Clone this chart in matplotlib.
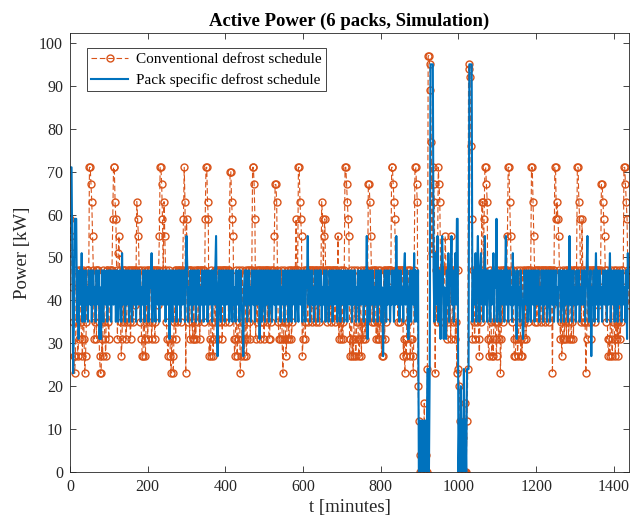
import numpy as np
import matplotlib
matplotlib.use("Agg")
import matplotlib.pyplot as plt

# Sampling step of both series (minutes)
STEP_MIN = 2

# Conventional defrost schedule, kW (one line = one hour, 30 samples)
conventional_kw = [
    59, 55, 51, 43, 35, 27, 23, 27, 47, 35, 27, 31, 47, 47, 35, 31, 27, 47, 31, 23, 27, 35, 47, 47, 43, 71, 71, 67, 63, 55,
    47, 31, 35, 47, 31, 47, 47, 35, 27, 23, 23, 31, 27, 47, 35, 31, 27, 47, 47, 35, 31, 47, 43, 47, 47, 59, 71, 71, 63, 59,
    47, 31, 51, 55, 47, 35, 27, 31, 47, 35, 47, 47, 31, 35, 47, 43, 47, 35, 31, 47, 47, 35, 47, 47, 39, 47, 63, 59, 55, 47,
    35, 47, 31, 27, 27, 47, 31, 27, 35, 47, 31, 47, 35, 47, 47, 31, 35, 47, 47, 31, 35, 47, 47, 39, 47, 55, 71, 71, 67, 59,
    47, 63, 55, 47, 35, 31, 27, 31, 47, 27, 23, 31, 27, 23, 35, 47, 31, 47, 35, 47, 47, 43, 47, 35, 47, 47, 59, 71, 63, 23,
    59, 47, 35, 47, 31, 47, 47, 35, 31, 47, 31, 35, 31, 47, 47, 35, 47, 31, 47, 47, 43, 47, 47, 35, 59, 71, 71, 63, 59, 27,
    31, 27, 47, 35, 27, 31, 47, 35, 47, 47, 35, 31, 47, 47, 35, 47, 31, 47, 47, 35, 47, 47, 43, 47, 35, 47, 70, 70, 63, 59,
    55, 31, 27, 31, 47, 27, 31, 35, 47, 23, 27, 31, 47, 35, 27, 31, 47, 27, 31, 47, 35, 47, 31, 47, 47, 71, 71, 67, 59, 31,
    47, 35, 47, 47, 31, 47, 35, 47, 47, 35, 31, 47, 47, 47, 35, 47, 31, 31, 47, 35, 47, 47, 43, 55, 67, 67, 63, 47, 35, 31,
    31, 35, 47, 31, 23, 31, 47, 35, 27, 31, 47, 35, 31, 47, 47, 31, 35, 47, 43, 47, 47, 59, 47, 47, 71, 71, 63, 59, 55, 27,
    31, 47, 35, 31, 47, 47, 35, 47, 47, 43, 47, 35, 47, 47, 39, 47, 35, 47, 47, 43, 47, 35, 47, 47, 63, 59, 47, 55, 59, 47,
    47, 35, 47, 47, 39, 47, 35, 47, 47, 43, 47, 35, 47, 47, 43, 55, 31, 35, 47, 31, 47, 31, 35, 47, 71, 71, 67, 63, 59, 55,
    27, 31, 47, 27, 31, 27, 47, 31, 27, 35, 47, 31, 27, 31, 47, 27, 35, 31, 47, 35, 31, 47, 47, 43, 67, 67, 63, 55, 47, 35,
    47, 35, 47, 47, 31, 35, 31, 47, 31, 47, 35, 27, 31, 27, 47, 31, 47, 35, 47, 47, 43, 47, 47, 47, 71, 71, 67, 63, 59, 47,
    47, 47, 35, 47, 47, 35, 47, 47, 47, 27, 31, 23, 31, 27, 47, 35, 47, 47, 27, 31, 31, 27, 23, 47, 71, 71, 67, 63, 20, 12,
    4, 0, 0, 8, 0, 0, 16, 0, 4, 0, 24, 97, 97, 95, 89, 77, 51, 71, 67, 63, 23, 47, 35, 47, 71, 67, 63, 47, 35, 47,
    47, 35, 47, 55, 47, 31, 47, 35, 47, 47, 31, 55, 47, 35, 47, 47, 31, 35, 23, 47, 24, 20, 12, 0, 4, 0, 8, 0, 16, 0,
    0, 12, 24, 94, 95, 92, 76, 59, 31, 47, 35, 31, 47, 47, 35, 47, 31, 27, 47, 35, 63, 63, 47, 59, 71, 71, 67, 63, 31, 27,
    31, 47, 35, 27, 31, 27, 47, 35, 31, 27, 47, 35, 31, 47, 23, 31, 47, 35, 47, 47, 43, 47, 47, 55, 71, 71, 63, 55, 47, 35,
    47, 31, 27, 27, 31, 47, 27, 31, 35, 47, 27, 31, 27, 47, 31, 35, 47, 31, 47, 35, 47, 47, 43, 47, 71, 71, 63, 55, 47, 35,
    47, 35, 47, 47, 43, 47, 35, 47, 47, 39, 47, 35, 47, 47, 43, 47, 47, 35, 47, 47, 39, 23, 47, 47, 71, 71, 59, 63, 59, 55,
    47, 31, 35, 27, 31, 47, 31, 35, 47, 31, 47, 35, 31, 47, 47, 31, 35, 47, 31, 47, 47, 43, 47, 71, 71, 63, 59, 47, 35, 59,
    47, 35, 47, 35, 23, 31, 47, 35, 47, 47, 31, 35, 47, 47, 43, 47, 35, 47, 47, 39, 47, 47, 43, 47, 67, 67, 63, 59, 55, 47,
    35, 47, 31, 27, 31, 27, 47, 31, 27, 35, 47, 31, 27, 47, 31, 35, 27, 47, 31, 35, 47, 47, 43, 71, 71, 67, 63, 59, 47, 39,
]

# Pack specific defrost schedule, kW (one line = one hour, 30 samples)
pack_specific_kw = [
    71, 71, 71, 47, 23, 35, 59, 59, 59, 35, 47, 31, 43, 47, 39, 51, 35, 47, 43, 35, 47, 39, 43, 35, 47, 43, 39, 47, 35, 43,
    47, 39, 43, 35, 47, 43, 39, 47, 31, 43, 31, 47, 39, 35, 47, 43, 39, 47, 35, 43, 47, 39, 47, 35, 43, 47, 39, 43, 47, 35,
    43, 47, 35, 39, 47, 43, 35, 51, 39, 47, 43, 35, 47, 39, 43, 47, 35, 43, 47, 39, 35, 47, 43, 39, 47, 35, 43, 47, 39, 43,
    47, 35, 43, 39, 47, 43, 35, 47, 39, 43, 47, 35, 39, 47, 43, 51, 35, 43, 47, 39, 35, 47, 43, 39, 47, 35, 47, 43, 39, 47,
    39, 43, 47, 35, 47, 39, 43, 47, 31, 43, 47, 39, 35, 47, 43, 39, 47, 35, 43, 47, 39, 47, 35, 43, 47, 39, 43, 47, 35, 47,
    55, 47, 35, 43, 39, 47, 43, 35, 47, 39, 43, 47, 35, 43, 47, 39, 47, 35, 43, 39, 47, 43, 35, 47, 39, 43, 47, 35, 43, 47,
    39, 43, 47, 35, 43, 47, 39, 47, 55, 35, 27, 43, 47, 39, 35, 47, 43, 39, 47, 35, 43, 47, 39, 43, 47, 35, 39, 47, 43, 35,
    47, 39, 43, 35, 47, 43, 39, 47, 35, 43, 47, 39, 35, 27, 43, 47, 39, 47, 35, 43, 47, 39, 43, 35, 47, 43, 39, 47, 35, 43,
    47, 39, 43, 47, 31, 43, 47, 35, 39, 47, 43, 35, 47, 39, 43, 47, 35, 43, 47, 39, 35, 47, 43, 39, 47, 35, 43, 47, 39, 43,
    47, 35, 43, 39, 47, 43, 35, 47, 39, 43, 47, 35, 39, 47, 43, 35, 47, 39, 43, 47, 35, 43, 47, 39, 35, 47, 43, 39, 47, 35,
    43, 47, 39, 35, 47, 43, 55, 39, 47, 35, 43, 47, 39, 43, 35, 47, 39, 43, 47, 35, 43, 47, 39, 47, 35, 43, 39, 47, 43, 35,
    47, 39, 43, 35, 47, 43, 39, 47, 35, 43, 47, 39, 43, 47, 35, 39, 47, 43, 35, 47, 39, 43, 47, 35, 43, 47, 39, 35, 47, 43,
    39, 47, 43, 35, 47, 39, 43, 47, 35, 43, 39, 47, 35, 43, 47, 39, 43, 47, 35, 43, 47, 39, 55, 31, 47, 43, 35, 47, 39, 43,
    47, 35, 43, 39, 47, 43, 35, 47, 39, 43, 47, 35, 43, 27, 39, 47, 43, 35, 47, 39, 43, 47, 35, 43, 39, 47, 43, 35, 47, 39,
    55, 43, 39, 47, 35, 43, 47, 39, 43, 35, 47, 51, 39, 43, 47, 31, 31, 43, 47, 35, 43, 47, 39, 51, 35, 47, 43, 35, 47, 0,
    0, 12, 0, 12, 0, 0, 12, 0, 12, 0, 24, 24, 0, 24, 95, 95, 95, 95, 47, 35, 51, 43, 39, 55, 35, 47, 43, 31, 47, 55,
    47, 31, 43, 35, 31, 47, 39, 51, 35, 43, 47, 55, 39, 47, 35, 43, 51, 39, 59, 59, 0, 12, 0, 20, 0, 12, 0, 24, 0, 12,
    0, 24, 24, 24, 95, 95, 95, 95, 35, 47, 43, 39, 51, 35, 47, 55, 43, 35, 47, 51, 39, 47, 35, 43, 55, 39, 47, 35, 43, 47,
    43, 35, 47, 39, 43, 51, 35, 47, 43, 59, 35, 43, 47, 39, 35, 47, 43, 39, 47, 35, 43, 55, 39, 47, 35, 43, 47, 39, 43, 35,
    51, 39, 47, 43, 35, 31, 47, 39, 43, 35, 47, 43, 39, 31, 35, 47, 43, 39, 47, 35, 43, 47, 39, 35, 47, 43, 39, 47, 35, 43,
    47, 39, 43, 47, 35, 43, 39, 47, 43, 35, 47, 39, 43, 47, 35, 43, 47, 39, 35, 47, 43, 39, 47, 35, 43, 47, 39, 43, 35, 47,
    43, 47, 35, 39, 47, 43, 35, 47, 39, 43, 47, 35, 43, 55, 39, 47, 35, 43, 47, 39, 43, 35, 47, 39, 43, 47, 35, 43, 39, 47,
    39, 43, 47, 35, 43, 47, 55, 39, 35, 43, 47, 27, 43, 39, 47, 35, 43, 51, 39, 47, 35, 43, 47, 39, 43, 35, 47, 43, 39, 47,
    43, 35, 47, 39, 43, 51, 35, 47, 43, 39, 47, 35, 43, 47, 39, 35, 47, 43, 39, 47, 35, 43, 47, 39, 43, 35, 47, 31, 51, 43,
]

X_TICKS = [0, 200, 400, 600, 800, 1000, 1200, 1400]
Y_TICKS = [0, 10, 20, 30, 40, 50, 60, 70, 80, 90, 100]

ORANGE = "#D95319"
BLUE = "#0072BD"
AX_COLOR = "#262626"

plt.rcParams["font.family"] = ["Liberation Serif", "DejaVu Serif"]

t_conv = np.arange(len(conventional_kw)) * STEP_MIN
t_pack = np.arange(len(pack_specific_kw)) * STEP_MIN

fig = plt.figure(figsize=(6.43, 5.20), dpi=100)
ax = fig.add_axes([0.1089, 0.0923, 0.8693, 0.8442])

ax.plot(t_conv, conventional_kw, color=ORANGE, linestyle="--", dashes=(5, 2.5),
        linewidth=0.8, marker="o", markersize=5, markerfacecolor="none",
        markeredgewidth=1.0, label="Conventional defrost schedule")
ax.plot(t_pack, pack_specific_kw, color=BLUE, linewidth=1.5,
        label="Pack specific defrost schedule")

ax.set_xlim(0, 1439)
ax.set_ylim(0, 102.3)
ax.set_xticks(X_TICKS)
ax.set_yticks(Y_TICKS)
ax.tick_params(direction="in", top=True, right=True, length=4, width=0.6,
               color=AX_COLOR, labelcolor=AX_COLOR, labelsize=11.5, pad=5)
for sp in ax.spines.values():
    sp.set_color(AX_COLOR)
    sp.set_linewidth(0.6)

ax.set_xlabel("t [minutes]", fontsize=13.5, color=AX_COLOR, labelpad=3)
ax.set_ylabel("Power [kW]", fontsize=13.5, color=AX_COLOR, labelpad=6)
ax.set_title("Active Power (6 packs, Simulation)", fontsize=13.5,
             fontweight="bold", color="black", pad=5)

leg = ax.legend(loc="upper left", bbox_to_anchor=(0.03, 0.966), fontsize=11,
                frameon=True, fancybox=False, framealpha=1, edgecolor=AX_COLOR,
                handlelength=2.4, handletextpad=0.5, borderpad=0.3,
                labelspacing=0.45, borderaxespad=0.0)
leg.get_frame().set_linewidth(0.6)

fig.savefig("out.png", dpi=100)
